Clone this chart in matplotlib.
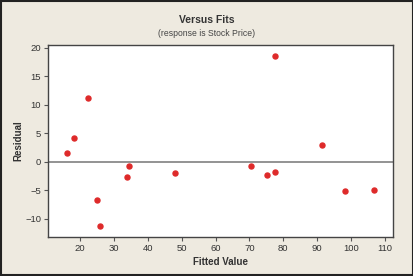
import matplotlib
matplotlib.use("Agg")
import matplotlib.pyplot as plt
from matplotlib.patches import Rectangle

# fitted values and residuals
fitted = [16.1, 18.2, 22.4, 25.0, 25.8, 33.7, 34.3, 48.1, 70.4, 75.2,
          77.6, 77.6, 91.4, 98.3, 106.9]
resid = [1.5, 4.2, 11.2, -6.7, -11.3, -2.7, -0.7, -1.9, -0.7, -2.3,
         -1.75, 18.5, 3.0, -5.1, -4.9]

xticks = [20, 30, 40, 50, 60, 70, 80, 90, 100, 110]
yticks = [-10, -5, 0, 5, 10, 15, 20]

plt.rcParams['font.family'] = ['Liberation Sans', 'DejaVu Sans']

bg = '#EEEAE0'
fig = plt.figure(figsize=(4.14, 2.76), dpi=100, facecolor=bg)
ax = fig.add_axes([48 / 414, 1 - 237 / 276, 345 / 414, 192 / 276])
ax.set_facecolor('white')

ax.axhline(0, color='#8a8a8a', lw=1.3, zorder=1)
ax.plot(fitted, resid, 'o', color='#DE2A2A', ms=3.6, mec='#DE2A2A', zorder=3)

ax.set_xlim(10.5, 112.4)
ax.set_ylim(-13.2, 20.5)
ax.set_xticks(xticks)
ax.set_yticks(yticks)
ax.tick_params(labelsize=6.8, length=3, width=0.8, color='#555555',
               labelcolor='#333333', pad=2)

for s in ax.spines.values():
    s.set_color('#444444')
    s.set_linewidth(1.0)

ax.set_xlabel('Fitted Value', fontsize=7, fontweight='bold', color='#333333', labelpad=3)
ax.set_ylabel('Residual', fontsize=7, fontweight='bold', color='#333333', labelpad=1)

fig.text(207 / 414, 1 - 20 / 276, 'Versus Fits', ha='center', va='center',
         fontsize=7.5, fontweight='bold', color='#333333')
fig.text(207 / 414, 1 - 33 / 276, '(response is Stock Price)', ha='center',
         va='center', fontsize=6.2, color='#444444')

# outer frame
fig.patches.append(Rectangle((0.002, 0.003), 0.996, 0.994, transform=fig.transFigure,
                             fill=False, edgecolor='#222222', lw=1.5))

fig.savefig('out.png', dpi=100, facecolor=bg)
